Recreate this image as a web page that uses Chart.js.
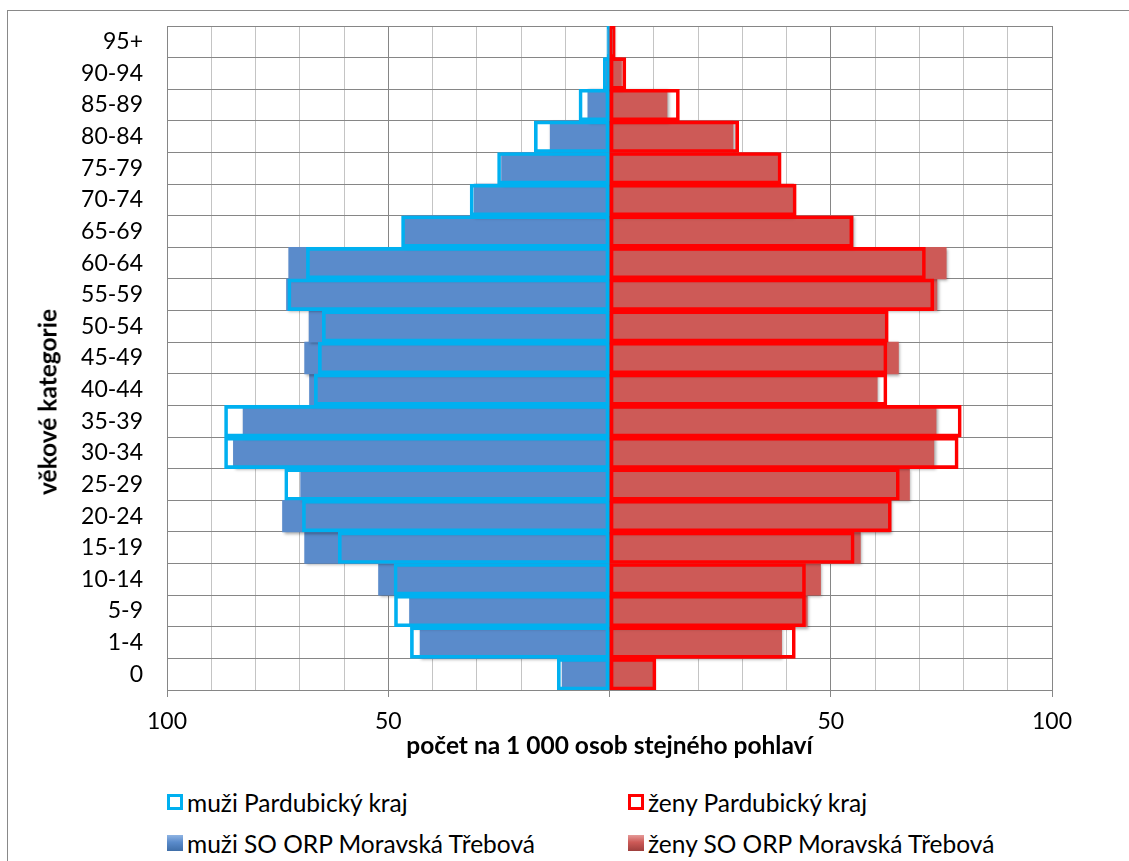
<!DOCTYPE html>
<html lang="cs">
<head>
<meta charset="utf-8">
<title>Věková struktura obyvatel</title>
<script src="https://cdn.jsdelivr.net/npm/chart.js@4.4.1/dist/chart.umd.min.js"></script>
<style>
    html, body {
        margin: 0;
        padding: 0;
        background: #fff;
        overflow: hidden;
    }

    body {
        position: relative;
        width: 1129px;
        height: 861px;
        font-family: Lato, "Open Sans", sans-serif;
    }

    .frame {
        position: absolute;
        left: 7px;
        top: 10px;
        width: 1200px;
        height: 900px;
        border-left: 1px solid #898989;
        border-top: 1px solid #898989;
    }

    .chart-box {
        position: absolute;
        left: 0;
        top: 0;
        width: 1129px;
        height: 770px;
    }

    .y-title {
        position: absolute;
        left: 47px;
        top: 402px;
        transform: translate(-50%, -50%) rotate(-90deg);
        font-size: 24.5px;
        font-weight: bold;
        white-space: nowrap;
        color: #000;
    }

    .legend-item {
        position: absolute;
        display: flex;
        align-items: center;
        height: 30px;
        font-size: 24.5px;
        color: #000;
        white-space: nowrap;
    }

    .swatch {
        width: 16px;
        height: 16px;
        box-sizing: border-box;
        margin-right: 4px;
        flex: none;
    }
</style>
</head>
<body>
<div class="frame"></div>
<div class="chart-box"><canvas id="pyramid"></canvas></div>
<div class="y-title" id="yTitle"></div>
<div id="legend"></div>

<script>
// age groups, bottom (0) to top (95+)
const ageGroups = ['0', '1-4', '5-9', '10-14', '15-19', '20-24', '25-29', '30-34', '35-39', '40-44',
    '45-49', '50-54', '55-59', '60-64', '65-69', '70-74', '75-79', '80-84', '85-89', '90-94', '95+'];

// per 1 000 persons of the same sex
const menKraj = [11.8, 45.0, 48.6, 48.7, 61.3, 69.4, 73.4, 87.0, 87.0, 66.7,
    65.8, 64.9, 72.7, 68.5, 47.0, 31.5, 25.3, 17.0, 6.9, 1.4, 0.6];
const womenKraj = [10.5, 42.0, 44.3, 44.3, 55.3, 63.7, 65.5, 78.8, 79.5, 62.7,
    62.7, 63.0, 73.3, 71.4, 55.0, 42.2, 38.8, 29.2, 15.8, 3.7, 1.3];
const menOrp = [10.7, 42.8, 45.2, 52.2, 68.9, 73.9, 69.8, 85.0, 82.8, 67.8,
    68.9, 67.9, 73.0, 72.5, 46.4, 30.6, 24.4, 13.4, 4.9, 0.9, 0.4];
const womenOrp = [9.9, 38.9, 44.7, 47.7, 56.7, 63.4, 67.8, 73.3, 73.8, 60.5,
    65.3, 62.4, 74.0, 76.1, 55.1, 41.6, 38.0, 27.9, 13.0, 2.7, 0.8];

const seriesNames = ['muži Pardubický kraj', 'ženy Pardubický kraj',
    'muži SO ORP Moravská Třebová', 'ženy SO ORP Moravská Třebová'];

const xLabelValues = [-100, -50, 50, 100];

const xTitle = 'počet na 1 000 osob stejného pohlaví';
const yTitle = 'věkové kategorie';

const FONT = 'Lato';
const MAJOR = '#868686';
const MINOR = '#c4c4c4';

function outline(color) {
    return {
        backgroundColor: 'rgba(0,0,0,0)',
        borderColor: color,
        borderWidth: 3,
        borderSkipped: false,
        order: 0,
    };
}

function filled(color) {
    return {
        backgroundColor: color,
        borderWidth: 0,
        order: 1,
        shaded: true,
    };
}

// soft drop shadow under the filled (3D) bars
const barShadow = {
    id: 'barShadow',
    beforeDatasetDraw(chart, args) {
        const ds = chart.data.datasets[args.index];
        const ctx = chart.ctx;
        ctx.save();
        if (ds.shaded) {
            ctx.shadowColor = 'rgba(0,0,0,0.35)';
            ctx.shadowBlur = 3;
            ctx.shadowOffsetX = 1.5;
            ctx.shadowOffsetY = 1.5;
        }
    },
    afterDatasetDraw(chart) {
        chart.ctx.restore();
    },
};

function buildLegend() {
    const host = document.getElementById('legend');
    const cols = [167, 628];
    const rows = [802, 843];
    const swatches = [
        'border:3px solid #00B0F0;background:#fff;',
        'border:3px solid #FF0000;background:#fff;',
        'background:linear-gradient(180deg,#8fb4e3 0%,#5a8bcb 45%,#3f6ea8 100%);',
        'background:linear-gradient(180deg,#e59a98 0%,#cd5a57 45%,#9e3f3d 100%);',
    ];

    seriesNames.forEach((name, i) => {
        const item = document.createElement('div');
        item.className = 'legend-item';
        item.style.left = cols[i % 2] + 'px';
        item.style.top = (rows[Math.floor(i / 2)] - 15) + 'px';
        item.innerHTML = '<span class="swatch" style="' + swatches[i] + '"></span>';
        item.appendChild(document.createTextNode(name));
        host.appendChild(item);
    });
}

function initPyramid() {
    Chart.defaults.font.family = FONT;
    Chart.defaults.color = '#000';

    new Chart(document.getElementById('pyramid'), {
        type: 'bar',
        data: {
            labels: ageGroups,
            datasets: [
                { label: seriesNames[0], data: menKraj.map((v) => -v), ...outline('#00B0F0') },
                { label: seriesNames[1], data: womenKraj, ...outline('#FF0000') },
                { label: seriesNames[2], data: menOrp.map((v) => -v), ...filled('#5A8BCB') },
                { label: seriesNames[3], data: womenOrp, ...filled('#CD5A57') },
            ],
        },
        options: {
            indexAxis: 'y',
            responsive: true,
            maintainAspectRatio: false,
            animation: false,
            devicePixelRatio: 1,
            layout: {
                padding: { top: 26, right: 77, left: 0, bottom: 0 },
            },
            datasets: {
                bar: {
                    grouped: false,
                    barPercentage: 1,
                    categoryPercentage: 1,
                },
            },
            plugins: {
                legend: { display: false },
                tooltip: { enabled: false },
            },
            scales: {
                x: {
                    min: -100,
                    max: 100,
                    afterFit(scale) {
                        scale.height = 80;
                    },
                    ticks: {
                        stepSize: 10,
                        autoSkip: false,
                        maxRotation: 0,
                        padding: 11,
                        font: { size: 23 },
                        callback: (value) => (xLabelValues.includes(value) ? String(Math.abs(value)) : ''),
                    },
                    grid: {
                        color: (c) => (c.tick && c.tick.value % 50 === 0 ? MAJOR : MINOR),
                        tickColor: (c) => (c.tick && c.tick.value % 50 === 0 ? MAJOR : 'rgba(0,0,0,0)'),
                        tickLength: 7,
                    },
                    border: { color: MAJOR },
                    title: {
                        display: true,
                        text: xTitle,
                        font: { size: 24.5, weight: 'bold' },
                        padding: { top: 0, bottom: 9 },
                    },
                },
                y: {
                    reverse: true,
                    afterFit(scale) {
                        scale.width = 167;
                        // labels sit in the category centres, no extra room needed
                        scale.paddingTop = 0;
                        scale.paddingBottom = 0;
                    },
                    ticks: {
                        padding: 24,
                        font: { size: 23 },
                    },
                    grid: {
                        color: MAJOR,
                        drawTicks: false,
                    },
                    border: { color: MAJOR },
                },
            },
        },
        plugins: [barShadow],
    });

    document.getElementById('yTitle').textContent = yTitle;
    buildLegend();
}

if (document.readyState === 'loading') {
    document.addEventListener('DOMContentLoaded', initPyramid);
} else {
    initPyramid();
}
</script>
</body>
</html>
